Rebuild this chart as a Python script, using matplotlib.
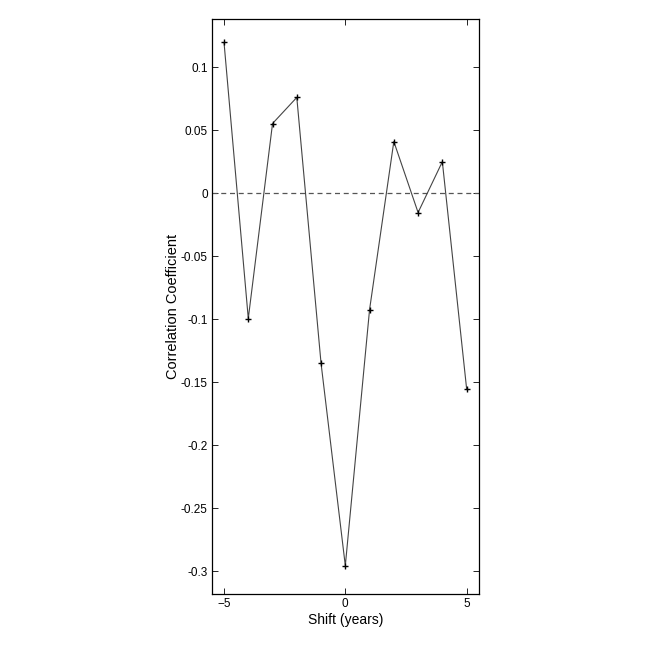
import numpy as np
import matplotlib
matplotlib.use("Agg")
import matplotlib.pyplot as plt

plt.rcParams['font.family'] = ['Liberation Sans', 'DejaVu Sans']

shift = [-5, -4, -3, -2, -1, 0, 1, 2, 3, 4, 5]
corr = [0.1196, -0.0994, 0.0553, 0.0760, -0.1350, -0.2955, -0.0923, 0.0410, -0.0153, 0.0250, -0.1550]
xticks = [-5, 0, 5]
yticks = [-0.3, -0.25, -0.2, -0.15, -0.1, -0.05, 0, 0.05, 0.1]
ytick_labels = ["-0.3", "-0.25", "-0.2", "-0.15", "-0.1", "-0.05", "0", "0.05", "0.1"]

fig = plt.figure(figsize=(6.54, 6.54), dpi=100)
ax = fig.add_axes([0.324, 0.0917, 0.408, 0.8788])

ax.axhline(0, color="#555555", linestyle="--", linewidth=0.9, dashes=(4, 3))
ax.plot(shift, corr, "-", color="#444444", linewidth=0.8)
ax.plot(shift, corr, "+", color="black", markersize=5, markeredgewidth=1.0)

ax.set_xlim(-5.5, 5.5)
ax.set_ylim(-0.318, 0.138)
ax.set_xticks(xticks)
ax.set_yticks(yticks)
ax.set_yticklabels(ytick_labels)
ax.tick_params(direction="in", top=True, right=True, length=4, labelsize=8.5, width=0.6, pad=3)
for s in ax.spines.values():
    s.set_linewidth(0.9)

ax.set_xlabel("Shift (years)", fontsize=10, labelpad=2)
ax.set_ylabel("Correlation Coefficient", fontsize=10.5)
ax.yaxis.set_label_coords(-0.118, 0.5)

plt.savefig("out.png", dpi=100)
